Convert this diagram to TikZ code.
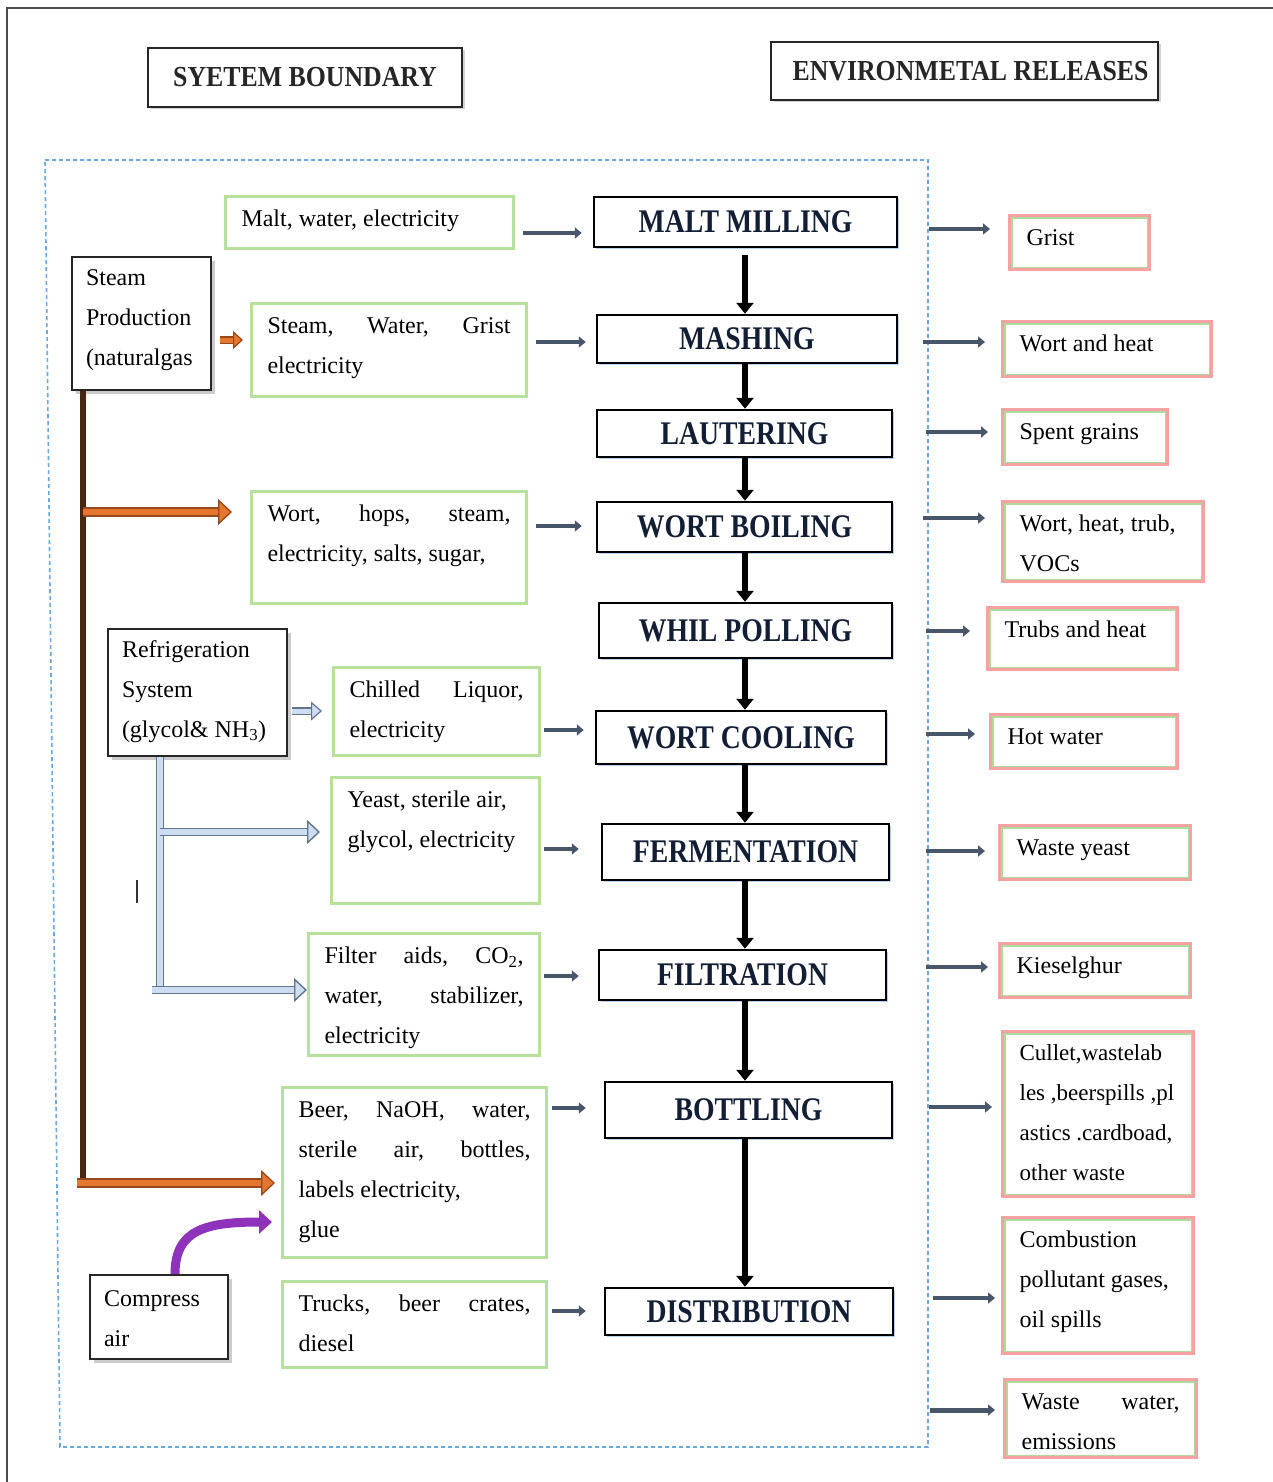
\documentclass[tikz,border=0pt]{standalone}
\usepackage{fontspec}
\setmainfont{Liberation Serif}
\newfontfamily\procfont{Liberation Serif}[FakeStretch=0.84]
\newfontfamily\hdrfont{Liberation Serif}[FakeStretch=0.89]
\usetikzlibrary{arrows.meta,shadows,calc}

\definecolor{inGreen}{RGB}{182,224,155}
\definecolor{outRed}{RGB}{246,162,162}
\definecolor{outGreen}{RGB}{175,218,155}
\definecolor{arrGray}{RGB}{72,86,106}
\definecolor{bndBlue}{RGB}{105,168,226}
\definecolor{navy}{RGB}{18,30,52}
\definecolor{brownL}{RGB}{72,38,18}
\definecolor{orangeA}{RGB}{228,118,48}
\definecolor{orangeD}{RGB}{150,72,28}
\definecolor{pipeFill}{RGB}{205,222,242}
\definecolor{pipeLine}{RGB}{100,116,140}
\definecolor{purpleA}{RGB}{142,50,188}

% #1 first-line height, #2 box width, #3 box height, #4 twice the side padding, #5 text
\newcommand\tb[5][30]{\parbox[c][#3pt][t]{\dimexpr#2pt-#4pt\relax}{\rule{0pt}{#1pt}#5}}

\begin{document}
\begin{tikzpicture}[x=1pt,y=-1pt,
  bodytext/.style={font=\fontsize{24}{40}\selectfont},
  hdr/.style={draw=black!85, line width=1.5pt, fill=white, inner sep=0pt,
    font=\hdrfont\bfseries\fontsize{29}{32}\selectfont, text=black!85,
    drop shadow={shadow xshift=2.5pt, shadow yshift=-2.5pt, opacity=0.35}},
  proc/.style={draw=black, line width=2.5pt, fill=white, inner sep=0pt,
    font=\procfont\bfseries\fontsize{33}{36}\selectfont, text=navy,
    drop shadow={shadow xshift=1.5pt, shadow yshift=-1.5pt, fill=bndBlue, opacity=0.5}},
  inbox/.style={bodytext, draw=inGreen, line width=3pt, fill=white, inner xsep=16pt,
    inner ysep=0pt, anchor=north west},
  obox/.style={bodytext, draw=outRed, line width=3.2pt, fill=white, inner xsep=17pt,
    inner ysep=0pt, anchor=north west,
    path picture={\draw[outGreen, line width=1.5pt]
      ([shift={(2.3pt,-2.3pt)}]path picture bounding box.north west) rectangle
      ([shift={(-2.3pt,2.3pt)}]path picture bounding box.south east);}},
  sbox/.style={bodytext, draw=black!85, line width=2pt, fill=white, inner xsep=14pt,
    inner ysep=0pt, anchor=north west,
    drop shadow={shadow xshift=4pt, shadow yshift=-4pt, opacity=0.4}},
  flow/.style={draw=black, line width=6pt, -{Triangle[length=11pt,width=17pt]}},
  garr/.style={draw=arrGray, line width=4pt, -{Triangle[length=7pt,width=11pt]}},
  orangearr/.style={draw=orangeD, double=orangeA, line width=1.3pt, double distance=6.5pt,
    -{Triangle[length=14pt,width=26pt,fill=orangeA]}},
  pipe/.style={draw=pipeLine, double=pipeFill, line width=1.4pt, double distance=6pt},
  pipearr/.style={pipe, -{Triangle[length=13pt,width=24pt,fill=pipeFill]}},
]
\useasboundingbox (0,0) rectangle (1273,1482);
\fill[white] (0,0) rectangle (1273,1482);

% outer frame (cropped page border)
\draw[black!70, line width=1.5pt] (7,1482) -- (7,8) -- (1273,8);

% system boundary
\draw[bndBlue, line width=1.6pt, dash pattern=on 4pt off 3pt]
  (45,160) -- (928,160) -- (928,1447) -- (60,1447) -- cycle;

% headers
\node[hdr, minimum width=314pt, minimum height=59pt] (hSB) at (305,77.5) {SYETEM BOUNDARY};
\node[hdr, minimum width=387pt, minimum height=58pt] (hER) at (964.5,71) {\hspace*{12pt}ENVIRONMETAL RELEASES};

% process chain
\node[proc, minimum width=303pt, minimum height=50pt] (pMalt) at (745.5,222) {MALT MILLING};
\node[proc, minimum width=300pt, minimum height=48pt] (pMash) at (747,339) {MASHING};
\node[proc, minimum width=295pt, minimum height=47pt] (pLaut) at (744.5,433.5) {LAUTERING};
\node[proc, minimum width=295pt, minimum height=50pt] (pBoil) at (744.5,527) {WORT BOILING};
\node[proc, minimum width=293pt, minimum height=55pt] (pWhil) at (745.5,630.5) {WHIL POLLING};
\node[proc, minimum width=290pt, minimum height=53pt] (pCool) at (741,737.5) {WORT COOLING};
\node[proc, minimum width=287pt, minimum height=56pt] (pFerm) at (745.5,852) {FERMENTATION};
\node[proc, minimum width=287pt, minimum height=50pt] (pFilt) at (742.5,975) {FILTRATION};
\node[proc, minimum width=287pt, minimum height=56pt] (pBott) at (748.5,1110) {BOTTLING};
\node[proc, minimum width=288pt, minimum height=47pt] (pDist) at (749,1311.5) {DISTRIBUTION};

\coordinate (spine) at (745,0);
\draw[flow, shorten <=7pt] (pMalt.south -| spine) -- (pMash.north -| spine);
\draw[flow] (pMash.south -| spine) -- (pLaut.north -| spine);
\draw[flow] (pLaut.south -| spine) -- (pBoil.north -| spine);
\draw[flow] (pBoil.south -| spine) -- (pWhil.north -| spine);
\draw[flow] (pWhil.south -| spine) -- (pCool.north -| spine);
\draw[flow] (pCool.south -| spine) -- (pFerm.north -| spine);
\draw[flow] (pFerm.south -| spine) -- (pFilt.north -| spine);
\draw[flow] (pFilt.south -| spine) -- (pBott.north -| spine);
\draw[flow] (pBott.south -| spine) -- (pDist.north -| spine);

% input boxes
\node[inbox] (inMalt) at (224,195) {\tb{288}{52}{32}{Malt, water, electricity}};
\node[inbox] (inSteam) at (250,302) {\tb{275}{93}{32}{Steam,\hfill Water,\hfill Grist\\electricity}};
\node[inbox] (inWort) at (250,490) {\tb{275}{112}{32}{Wort,\hfill hops,\hfill steam,\\electricity, salts, sugar,}};
\node[inbox] (inChill) at (332,666) {\tb{206}{88}{32}{Chilled\hfill Liquor,\\electricity}};
\node[inbox] (inYeast) at (330,776) {\tb{208}{126}{32}{Yeast, sterile air,\\glycol, electricity}};
\node[inbox] (inFilt) at (307,932) {\tb{231}{122}{32}{Filter\hfill aids,\hfill CO\textsubscript{2},\\water,\hfill stabilizer,\\electricity}};
\node[inbox] (inBeer) at (281,1086) {\tb{264}{170}{32}{Beer,\hfill NaOH,\hfill water,\\sterile\hfill air,\hfill bottles,\\labels electricity,\\glue}};
\node[inbox] (inTruck) at (281,1280) {\tb{264}{86}{32}{Trucks,\hfill beer\hfill crates,\\diesel}};

% input arrows
\draw[garr, shorten <=8pt, shorten >=11pt] (inMalt.east |- 0,233) -- (pMalt.west |- 0,233);
\draw[garr, shorten <=8pt, shorten >=10pt] (inSteam.east |- 0,342) -- (pMash.west |- 0,342);
\draw[garr, shorten <=8pt, shorten >=14pt] (inWort.east |- 0,526) -- (pBoil.west |- 0,526);
\draw[garr, shorten <=3pt, shorten >=11pt] (inChill.east |- 0,730) -- (pCool.west |- 0,730);
\draw[garr, shorten <=3pt, shorten >=22pt] (inYeast.east |- 0,849) -- (pFerm.west |- 0,849);
\draw[garr, shorten <=3pt, shorten >=19pt] (inFilt.east |- 0,976) -- (pFilt.west |- 0,976);
\draw[garr, shorten <=4pt, shorten >=18pt] (inBeer.east |- 0,1108) -- (pBott.west |- 0,1108);
\draw[garr, shorten <=4pt, shorten >=18pt] (inTruck.east |- 0,1311) -- (pDist.west |- 0,1311);

% output boxes
\node[obox] (oGrist) at (1008,214) {\tb{140}{54}{34}{Grist}};
\node[obox] (oWort) at (1001,320) {\tb{209}{55}{34}{Wort and heat}};
\node[obox] (oSpent) at (1001,408) {\tb{165}{55}{34}{Spent grains}};
\node[obox] (oWHT) at (1001,500) {\tb{201}{80}{34}{Wort, heat, trub,\\VOCs}};
\node[obox] (oTrubs) at (986,606) {\tb{190}{62}{34}{Trubs and heat}};
\node[obox] (oHot) at (989,713) {\tb{187}{54}{34}{Hot water}};
\node[obox] (oYeast) at (998,824) {\tb{191}{54}{34}{Waste yeast}};
\node[obox] (oKies) at (998,942) {\tb{191}{54}{34}{Kieselghur}};
\node[obox, font=\fontsize{23}{40}\selectfont] (oCullet) at (1001,1030)
  {\tb[29]{191}{165}{34}{\mbox{Cullet,wastelab}\\\mbox{les ,beerspills ,pl}\\\mbox{astics .cardboad,}\\\mbox{other waste}}};
\node[obox] (oComb) at (1001,1216) {\tb{191}{136}{34}{Combustion\\pollutant gases,\\oil spills}};
\node[obox] (oWW) at (1003,1378) {\tb{192}{78}{34}{Waste\hfill water,\\emissions}};

% output arrows
\draw[garr, shorten <=31pt, shorten >=18pt] (pMalt.east |- 0,229) -- (oGrist.west |- 0,229);
\draw[garr, shorten <=25pt, shorten >=16pt] (pMash.east |- 0,342) -- (oWort.west |- 0,342);
\draw[garr, shorten <=33pt, shorten >=13pt] (pLaut.east |- 0,432) -- (oSpent.west |- 0,432);
\draw[garr, shorten <=30pt, shorten >=16pt] (pBoil.east |- 0,518) -- (oWHT.west |- 0,518);
\draw[garr, shorten <=33pt, shorten >=16pt] (pWhil.east |- 0,631) -- (oTrubs.west |- 0,631);
\draw[garr, shorten <=39pt, shorten >=14pt] (pCool.east |- 0,734) -- (oHot.west |- 0,734);
\draw[garr, shorten <=36pt, shorten >=13pt] (pFerm.east |- 0,851) -- (oYeast.west |- 0,851);
\draw[garr, shorten <=39pt, shorten >=10pt] (pFilt.east |- 0,967) -- (oKies.west |- 0,967);
\draw[garr, shorten <=36pt, shorten >=9pt] (pBott.east |- 0,1107) -- (oCullet.west |- 0,1107);
\draw[garr, shorten <=39pt, shorten >=6pt] (pDist.east |- 0,1298) -- (oComb.west |- 0,1298);
\coordinate (bndOut) at (930,1410);
\draw[garr, line width=5pt] (bndOut) -- ([xshift=-8pt]oWW.west |- 0,1410);

% support systems
\node[sbox] (steamP) at (71,256) {\tb[28]{139}{133}{28}{Steam\\Production\\(naturalgas}};
\node[sbox] (refr) at (107,628) {\tb[28]{179}{127}{28}{Refrigeration\\System\\(glycol\& NH\textsubscript{3})}};
\node[sbox] (comp) at (89,1274) {\tb[31]{138}{84}{28}{Compress\\air}};

% steam distribution
\coordinate (trunkTop) at (83,389);
\coordinate (trunkA) at (83,512);
\coordinate (trunkB) at (77,1183);
\draw[brownL, line width=6pt] (steamP.south -| trunkTop) -- (83,1186);
\draw[orangearr, shorten >=18pt] (trunkA) -- (inWort.west |- trunkA);
\draw[orangearr, shorten >=6pt] (trunkB) -- (inBeer.west |- trunkB);
\draw[draw=orangeD, double=orangeA, line width=1.2pt, double distance=5pt,
  -{Triangle[length=10pt,width=18pt,fill=orangeA]}, shorten <=8pt, shorten >=7pt]
  (steamP.east |- 0,340) -- (inSteam.west |- 0,340);

% refrigeration distribution
\draw[draw=pipeLine, double=pipeFill, line width=1.2pt, double distance=5pt,
  -{Triangle[length=11pt,width=19pt,fill=pipeFill]}, shorten <=4pt, shorten >=10pt]
  (refr.east |- 0,711) -- (inChill.west |- 0,711);
\coordinate (pipeTop) at (160,757);
\coordinate (pipeMid) at (160,832);
\coordinate (pipeBot) at (160,990);
\draw[pipe] (refr.south -| pipeTop) -- (pipeBot);
\draw[pipearr, shorten >=10pt] (pipeMid) -- (inYeast.west |- pipeMid);
\draw[pipearr, shorten >=0pt] ([xshift=-8pt]pipeBot) -- (inFilt.west |- pipeBot);

% stray mark
\draw[black!80, line width=2pt] (137,880) -- (137,903);

% compressed air
\draw[draw=purpleA, line width=9pt, -{Triangle[length=13pt,width=23pt]}, shorten >=9pt]
  (comp.north -| 175,0) .. controls (175,1230) and (205,1222) .. (inBeer.west |- 0,1222);

\end{tikzpicture}
\end{document}
